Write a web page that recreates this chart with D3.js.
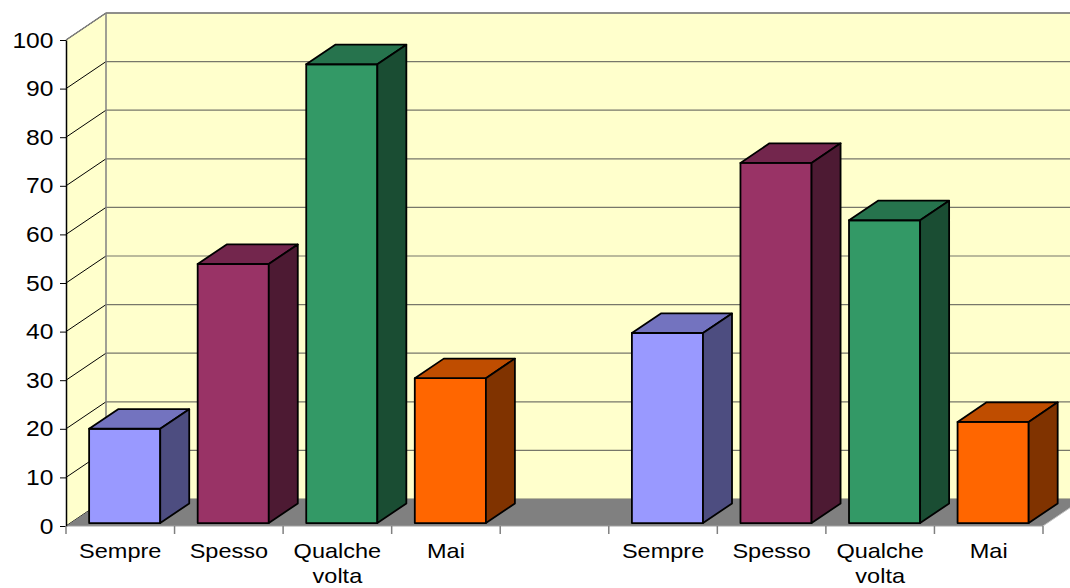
<!DOCTYPE html>
<html>
<head>
<meta charset="utf-8">
<script src="https://cdn.jsdelivr.net/npm/d3@7"></script>
<style>
  body { margin: 0; background: #fff; }
  svg text { font-family: Arial, "Liberation Sans", sans-serif; fill: #000; }
</style>
</head>
<body>
<div id="main"></div>
<script>
// data
var categories = ["Sempre", "Spesso", "Qualche volta", "Mai"];
var group1 = [19.4, 53.3, 94.4, 29.8];
var group2 = [39.1, 74.1, 62.3, 20.8];
var yTicks = [0, 10, 20, 30, 40, 50, 60, 70, 80, 90, 100];

var front = ["#9999FF", "#993366", "#339966", "#FF6600"];
var topc = ["#7373BF", "#73264D", "#26734D", "#BF4D00"];
var side = ["#4D4D80", "#4D1A33", "#1A4D33", "#803300"];

// 9 slots: group1, gap, group2
var slots = [];
categories.forEach(function (c, i) { slots.push({ label: c, value: group1[i], k: i }); });
slots.push({ label: "", value: null, k: -1 });
categories.forEach(function (c, i) { slots.push({ label: c, value: group2[i], k: i }); });

var width = 1070, height = 588;
var plotLeft = 66, plotRight = 1043, plotBottom = 526, plotTop = 40;
var depthX = 40, depthY = 27;
var f0 = 0.11, f1 = 0.835;
var stretch = 1.12; // text in the original is a bit wide

var svg = d3.select("#main").append("svg")
    .attr("width", width)
    .attr("height", height);

var x = d3.scaleBand()
    .domain(d3.range(slots.length))
    .range([plotLeft, plotRight])
    .paddingInner(0)
    .paddingOuter(0);

var y = d3.scaleLinear()
    .domain([0, 100])
    .range([plotBottom, plotTop]);

function P(px, py, f) {
    return [px + depthX * f, py - depthY * f];
}
function pts(arr) {
    return arr.map(function (p) { return p[0] + "," + p[1]; }).join(" ");
}

var wall = "#FFFFCC";
var backRight = plotRight + depthX;

// back wall
svg.append("polygon")
    .attr("points", pts([P(plotLeft, y(0), 1), P(plotLeft, y(100), 1), [backRight, y(100) - depthY], [backRight, y(0) - depthY]]))
    .attr("fill", wall);

// side wall
svg.append("polygon")
    .attr("points", pts([P(plotLeft, y(0), 0), P(plotLeft, y(100), 0), P(plotLeft, y(100), 1), P(plotLeft, y(0), 1)]))
    .attr("fill", wall);

// gridlines
yTicks.forEach(function (t) {
    var a = P(plotLeft, y(t), 1);
    svg.append("line")
        .attr("x1", a[0]).attr("y1", a[1])
        .attr("x2", backRight).attr("y2", a[1])
        .attr("stroke", "#77776a")
        .attr("stroke-width", 1.2);
    svg.append("line")
        .attr("x1", plotLeft).attr("y1", y(t))
        .attr("x2", a[0]).attr("y2", a[1])
        .attr("stroke", "#000")
        .attr("stroke-width", 1);
});

// wall edges
var tl = P(plotLeft, y(100), 1);
svg.append("line")
    .attr("x1", tl[0]).attr("y1", tl[1]).attr("x2", tl[0]).attr("y2", y(0) - depthY)
    .attr("stroke", "#808080").attr("stroke-width", 1.5);
svg.append("line")
    .attr("x1", plotLeft).attr("y1", y(100)).attr("x2", tl[0]).attr("y2", tl[1])
    .attr("stroke", "#808080").attr("stroke-width", 1.5);
svg.append("line")
    .attr("x1", tl[0]).attr("y1", tl[1]).attr("x2", backRight).attr("y2", tl[1])
    .attr("stroke", "#808080").attr("stroke-width", 1.5);

// floor
svg.append("polygon")
    .attr("points", pts([P(plotLeft, y(0), 0), P(plotRight, y(0), 0), P(plotRight, y(0), 1), P(plotLeft, y(0), 1)]))
    .attr("fill", "#808080");
var fr = P(plotRight, y(0), 1);
svg.append("line")
    .attr("x1", plotRight).attr("y1", y(0)).attr("x2", fr[0]).attr("y2", fr[1])
    .attr("stroke", "#c0c0c0").attr("stroke-width", 1);
svg.append("line")
    .attr("x1", plotLeft).attr("y1", y(0)).attr("x2", plotRight).attr("y2", y(0))
    .attr("stroke", "#a0a0a0").attr("stroke-width", 1);

// bars
var bw = x.bandwidth() * 0.655;
var inset = (x.bandwidth() - bw) / 2;
slots.forEach(function (s, i) {
    if (s.value == null) return;
    var x0 = x(i) + inset, x1 = x0 + bw;
    var yb = y(0), yt = y(s.value);
    var g = svg.append("g")
        .attr("stroke", "#000")
        .attr("stroke-width", 1.8)
        .attr("stroke-linejoin", "round");
    g.append("polygon")
        .attr("points", pts([P(x0, yb, f0), P(x1, yb, f0), P(x1, yt, f0), P(x0, yt, f0)]))
        .attr("fill", front[s.k]);
    g.append("polygon")
        .attr("points", pts([P(x0, yt, f0), P(x1, yt, f0), P(x1, yt, f1), P(x0, yt, f1)]))
        .attr("fill", topc[s.k]);
    g.append("polygon")
        .attr("points", pts([P(x1, yb, f0), P(x1, yt, f0), P(x1, yt, f1), P(x1, yb, f1)]))
        .attr("fill", side[s.k]);
});

// y axis
var yAxis = svg.append("g")
    .attr("transform", "translate(" + plotLeft + ",0)")
    .call(d3.axisLeft(y).tickValues(yTicks).tickSize(6).tickSizeOuter(0).tickPadding(6));
yAxis.select(".domain").attr("stroke", "#000").attr("stroke-width", 1.5);
yAxis.selectAll(".tick line").attr("stroke", "#000");
yAxis.selectAll(".tick text")
    .attr("font-family", "Arial, 'Liberation Sans', sans-serif")
    .attr("font-size", 22)
    .attr("fill", "#000")
    .attr("x", -12.5 / stretch)
    .attr("transform", "scale(" + stretch + ",1)");

// x ticks at slot boundaries
d3.range(slots.length + 1).forEach(function (i) {
    var xx = plotLeft + i * x.bandwidth();
    svg.append("line")
        .attr("x1", xx).attr("y1", y(0))
        .attr("x2", xx).attr("y2", y(0) + 8)
        .attr("stroke", "#808080").attr("stroke-width", 1.5);
});

// x labels
slots.forEach(function (s, i) {
    if (!s.label) return;
    var words = s.label.split(" ");
    var cx = x(i) + x.bandwidth() / 2;
    var t = svg.append("text")
        .attr("transform", "translate(" + cx + ",558) scale(" + stretch + ",1)")
        .attr("text-anchor", "middle")
        .attr("font-size", 21);
    words.forEach(function (w, j) {
        t.append("tspan")
            .attr("x", 0)
            .attr("dy", j === 0 ? 0 : 25)
            .text(w);
    });
});
</script>
</body>
</html>
